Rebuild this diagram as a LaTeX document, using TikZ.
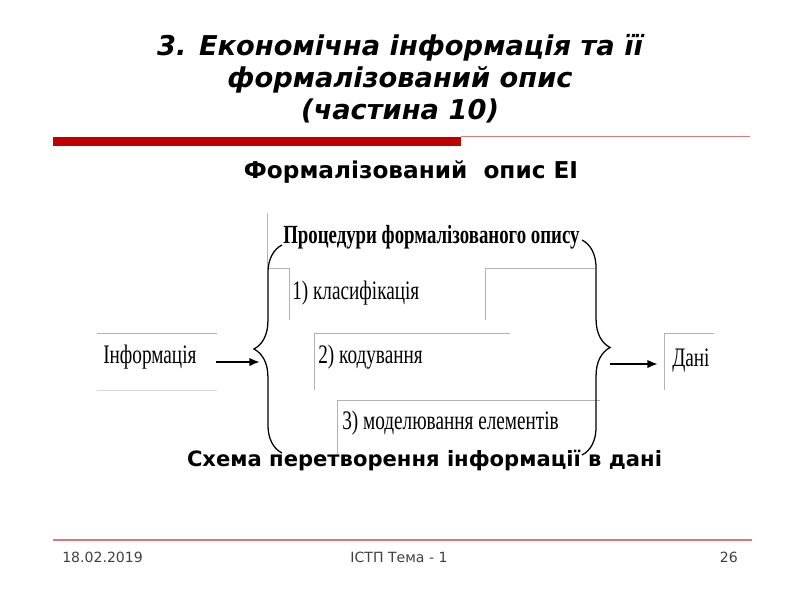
\documentclass[tikz,border=0pt]{standalone}
\usepackage{fontspec}
\setmainfont{Liberation Serif}
\newfontfamily\tah{DejaVu Sans}
\newfontfamily\tnr[FakeStretch=0.72]{Liberation Serif}
\usetikzlibrary{arrows.meta, decorations.pathreplacing}
\definecolor{barred}{RGB}{192,0,0}
\definecolor{linered}{RGB}{220,120,120}

\begin{document}
\begin{tikzpicture}[x=0.025cm, y=-0.025cm,
    head/.style = {font=\tah\bfseries\itshape\fontsize{19.4}{22.6}\selectfont, align=center},
    sub/.style = {font=\tah\bfseries\fontsize{16.5}{18}\selectfont, anchor=base, inner sep=0pt},
    item/.style = {font=\tnr\fontsize{19}{22}\selectfont, anchor=west, inner sep=0pt},
    foot/.style = {font=\tah\fontsize{10}{12}\selectfont, text=black!75, inner sep=0pt},
    frame/.style = {draw=black!30, line width=0.4pt},
    brc/.style = {decorate, decoration={brace, amplitude=20pt}, line width=0.9pt},
    arr/.style = {-{Latex[length=7.5pt,width=6pt]}, line width=1.8pt}]
    \useasboundingbox (0,0) rectangle (800,600);

    \node[head] (title) at (400,79) {3. Економічна інформація та її\\формалізований опис\\(частина 10)};
    \fill[barred] (53,137) rectangle (461,146);
    \draw[linered, line width=0.6pt] (461,136.5) -- (750,136.5);
    \node[sub] (desc) at (411,178) {Формалізований~~опис ЕІ};

    % frames of the text boxes
    \draw[frame] (97,333) -- (217,333);
    \draw[frame, draw=black!15] (97,390) -- (217,390);
    \draw[frame] (267,213) -- (267,268) -- (290,268);
    \draw[frame] (289,268) -- (289,320);
    \draw[frame] (485,320) -- (485,268) -- (595,268);
    \draw[frame] (314,390) -- (314,333) -- (510,333);
    \draw[frame] (337,455) -- (337,400) -- (600,400);
    \draw[frame] (664,390) -- (664,333) -- (714,333);

    \node[item, font=\tnr\bfseries\fontsize{18.6}{22}\selectfont] (proc) at (283,237) {Процедури формалізованого опису};
    \node[item] (k1) at (292,293) {1) класифікація};
    \node[item] (k2) at (318,357) {2) кодування};
    \node[item] (k3) at (342,423) {3) моделювання елементів};
    \node[item] (info) at (103,357) {Інформація};
    \node[item] (dani) at (672,360) {Дані};

    \draw[brc] (282,453) -- (282,245);
    \draw[brc] (582,240) -- (582,455);

    \coordinate (a1) at (216,362);
    \coordinate (b1) at (260,362);
    \coordinate (a2) at (610,364);
    \coordinate (b2) at (658,364);
    \draw[arr] (a1) -- (b1);
    \draw[arr] (a2) -- (b2);

    \node[sub, font=\tah\bfseries\fontsize{15}{18}\selectfont] (caption) at (424.5,466) {Схема перетворення інформації в дані};

    \draw[linered, line width=0.8pt] (53,540) -- (752,540);
    \node[foot, anchor=west] (date) at (62,557) {18.02.2019};
    \node[foot] (topic) at (399,557) {ІСТП Тема - 1};
    \node[foot, anchor=east] (page) at (738,557) {26};
\end{tikzpicture}
\end{document}
